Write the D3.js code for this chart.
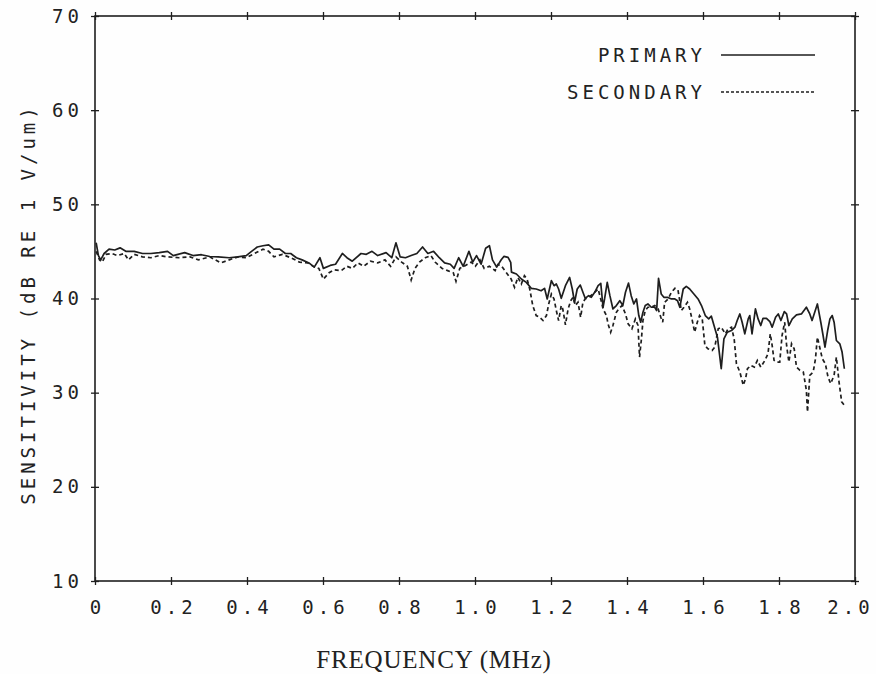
<!DOCTYPE html>
<html>
<head>
<meta charset="utf-8">
<script src="https://cdn.jsdelivr.net/npm/d3@7"></script>
<style>
  html, body { margin: 0; padding: 0; background: #fefefe; }
  svg { display: block; }
  .plotter { font-family: "DejaVu Sans Mono", monospace; font-size: 19px; letter-spacing: 4px; fill: #222; }
  .typed { font-family: "Liberation Serif", serif; font-size: 25px; letter-spacing: 0.8px; fill: #222; }
</style>
</head>
<body>
<svg id="chart" width="876" height="674"></svg>
<script>
// frequency (MHz) / sensitivity (dB re 1 V/um)
const primaryFreq = [
  0.003, 0.009, 0.015, 0.024, 0.037, 0.052, 0.066, 0.081, 0.103, 0.125, 0.147, 0.169, 0.191, 0.206,
  0.236, 0.258, 0.280, 0.302, 0.324, 0.353, 0.376, 0.398, 0.412, 0.427, 0.442, 0.457, 0.471, 0.486,
  0.501, 0.515, 0.530, 0.545, 0.563, 0.577, 0.592, 0.601, 0.619, 0.633, 0.651, 0.663, 0.677, 0.700,
  0.714, 0.729, 0.744, 0.766, 0.781, 0.792, 0.803, 0.817, 0.832, 0.847, 0.862, 0.876, 0.891, 0.906,
  0.920, 0.935, 0.945, 0.957, 0.969, 0.984, 0.994, 1.004, 1.016, 1.028, 1.038, 1.046, 1.057, 1.069,
  1.076, 1.087, 1.094, 1.096, 1.109, 1.122, 1.135, 1.148, 1.161, 1.174, 1.183, 1.190, 1.201, 1.208,
  1.214, 1.220, 1.227, 1.238, 1.249, 1.256, 1.262, 1.269, 1.277, 1.284, 1.290, 1.299, 1.306, 1.315,
  1.324, 1.331, 1.337, 1.341, 1.348, 1.355, 1.363, 1.372, 1.381, 1.389, 1.396, 1.404, 1.411, 1.418,
  1.425, 1.431, 1.436, 1.442, 1.448, 1.455, 1.464, 1.473, 1.478, 1.483, 1.490, 1.497, 1.506, 1.517,
  1.526, 1.533, 1.539, 1.548, 1.556, 1.565, 1.576, 1.587, 1.596, 1.606, 1.615, 1.622, 1.629, 1.638,
  1.648, 1.655, 1.664, 1.675, 1.684, 1.690, 1.697, 1.703, 1.710, 1.719, 1.723, 1.729, 1.738, 1.745,
  1.752, 1.758, 1.767, 1.776, 1.782, 1.791, 1.798, 1.805, 1.814, 1.820, 1.826, 1.835, 1.846, 1.859,
  1.872, 1.881, 1.887, 1.901, 1.910, 1.916, 1.921, 1.928, 1.934, 1.940, 1.945, 1.951, 1.960, 1.966,
  1.972
];
const primaryDb = [
  45.92, 44.56, 44.10, 44.78, 45.24, 45.15, 45.38, 45.01, 45.01, 44.78, 44.78, 44.87, 45.01, 44.56,
  44.87, 44.56, 44.65, 44.46, 44.42, 44.33, 44.42, 44.56, 45.01, 45.47, 45.60, 45.70, 45.24, 45.24,
  44.78, 44.78, 44.33, 44.10, 43.78, 43.33, 44.33, 43.20, 43.51, 43.64, 44.78, 44.33, 43.96, 44.78,
  44.69, 45.01, 44.56, 44.87, 44.33, 45.92, 44.42, 44.33, 44.56, 44.78, 45.47, 44.78, 45.01, 44.33,
  43.78, 43.64, 43.20, 44.33, 43.42, 45.01, 43.87, 44.56, 43.64, 45.33, 45.60, 44.10, 43.33, 44.11,
  44.47, 44.36, 43.83, 42.80, 42.60, 42.07, 41.71, 41.08, 41.01, 40.83, 41.08, 39.95, 41.89, 41.36,
  41.54, 41.01, 40.02, 41.36, 42.24, 41.01, 39.60, 41.01, 41.43, 40.66, 40.02, 40.30, 40.13, 40.66,
  41.36, 41.61, 39.07, 39.95, 41.71, 40.30, 38.89, 39.25, 39.77, 39.25, 40.66, 41.64, 40.30, 39.42,
  39.95, 38.19, 37.48, 38.54, 39.25, 39.42, 39.07, 39.07, 38.72, 42.14, 40.48, 40.13, 40.13, 39.95,
  39.95, 39.77, 39.07, 41.01, 41.29, 41.01, 40.48, 39.95, 39.25, 38.19, 37.83, 38.12, 37.13, 35.89,
  32.54, 35.72, 36.42, 36.60, 36.95, 37.66, 38.36, 37.48, 36.25, 37.83, 38.19, 36.25, 38.89, 37.83,
  37.13, 37.90, 37.90, 37.55, 36.95, 38.01, 38.36, 37.66, 38.61, 38.36, 37.13, 37.83, 38.26, 38.36,
  39.07, 38.36, 37.66, 39.42, 37.48, 36.07, 34.84, 36.60, 37.83, 38.19, 37.48, 35.54, 35.19, 34.31,
  32.54
];

const secondaryFreq = [
  0.003, 0.012, 0.019, 0.029, 0.044, 0.059, 0.077, 0.088, 0.103, 0.125, 0.147, 0.169, 0.191, 0.221,
  0.250, 0.272, 0.302, 0.331, 0.353, 0.376, 0.398, 0.420, 0.442, 0.457, 0.471, 0.493, 0.515, 0.538,
  0.560, 0.574, 0.589, 0.601, 0.616, 0.630, 0.648, 0.663, 0.677, 0.692, 0.707, 0.725, 0.744, 0.763,
  0.778, 0.792, 0.807, 0.822, 0.832, 0.842, 0.854, 0.869, 0.884, 0.895, 0.913, 0.928, 0.943, 0.950,
  0.960, 0.975, 0.990, 1.001, 1.013, 1.024, 1.038, 1.053, 1.060, 1.069, 1.082, 1.095, 1.104, 1.113,
  1.122, 1.130, 1.137, 1.144, 1.152, 1.161, 1.170, 1.179, 1.188, 1.194, 1.201, 1.208, 1.214, 1.220,
  1.227, 1.231, 1.238, 1.245, 1.252, 1.258, 1.264, 1.271, 1.278, 1.284, 1.290, 1.299, 1.310, 1.324,
  1.332, 1.337, 1.346, 1.350, 1.357, 1.363, 1.372, 1.378, 1.387, 1.396, 1.403, 1.413, 1.422, 1.429,
  1.433, 1.438, 1.442, 1.448, 1.455, 1.464, 1.473, 1.482, 1.489, 1.494, 1.499, 1.508, 1.517, 1.526,
  1.534, 1.543, 1.550, 1.559, 1.565, 1.571, 1.578, 1.585, 1.591, 1.598, 1.605, 1.613, 1.624, 1.631,
  1.640, 1.648, 1.659, 1.666, 1.675, 1.682, 1.688, 1.697, 1.706, 1.712, 1.717, 1.726, 1.735, 1.743,
  1.752, 1.763, 1.771, 1.777, 1.782, 1.787, 1.793, 1.802, 1.808, 1.815, 1.820, 1.826, 1.833, 1.840,
  1.846, 1.855, 1.864, 1.872, 1.875, 1.881, 1.890, 1.896, 1.901, 1.908, 1.914, 1.922, 1.929, 1.936,
  1.945, 1.951, 1.958, 1.965, 1.972
];
const secondaryDb = [
  45.01, 44.10, 43.87, 44.69, 44.78, 44.56, 44.78, 44.10, 44.69, 44.42, 44.33, 44.56, 44.42, 44.33,
  44.42, 44.10, 44.42, 43.78, 44.10, 44.42, 44.33, 44.78, 45.24, 45.01, 44.42, 44.69, 44.33, 43.87,
  43.78, 43.42, 43.20, 42.05, 42.73, 43.05, 42.96, 43.42, 43.20, 43.78, 43.42, 43.96, 43.78, 44.10,
  43.42, 44.42, 43.87, 43.42, 41.96, 43.20, 43.87, 44.33, 44.56, 43.87, 43.20, 42.96, 42.73, 41.82,
  43.20, 43.51, 43.87, 43.42, 44.10, 43.20, 43.42, 42.96, 43.60, 43.48, 42.77, 42.07, 41.19, 42.24,
  41.54, 42.42, 42.07, 41.01, 39.25, 38.19, 38.01, 37.66, 38.19, 39.42, 40.48, 39.95, 38.72, 37.66,
  39.25, 38.89, 37.20, 38.89, 39.77, 40.13, 39.25, 39.60, 38.01, 39.60, 39.95, 40.13, 40.48, 41.01,
  39.77, 38.89, 38.19, 37.31, 36.42, 37.13, 38.54, 38.89, 39.25, 38.36, 37.31, 36.78, 37.83, 37.13,
  33.78, 35.72, 37.66, 38.72, 39.07, 39.07, 39.25, 38.89, 38.01, 37.48, 39.60, 39.95, 40.66, 41.08,
  40.94, 38.72, 39.07, 39.60, 38.89, 37.83, 36.42, 37.48, 38.19, 37.83, 35.01, 34.66, 34.48, 34.84,
  36.78, 36.95, 36.25, 36.78, 36.95, 35.72, 33.07, 32.19, 30.78, 31.49, 32.54, 32.90, 32.72, 33.43,
  32.72, 33.43, 34.13, 36.25, 35.01, 33.43, 33.25, 33.25, 36.07, 37.48, 35.01, 33.25, 35.19, 34.66,
  32.72, 32.37, 32.19, 30.25, 27.96, 31.84, 32.19, 33.60, 35.89, 34.66, 33.60, 33.07, 31.66, 30.96,
  31.84, 33.78, 31.13, 29.02, 28.66
];

const xTicks = [0, 0.2, 0.4, 0.6, 0.8, 1.0, 1.2, 1.4, 1.6, 1.8, 2.0];
const yTicks = [10, 20, 30, 40, 50, 60, 70];
const legendLabels = ["PRIMARY", "SECONDARY"];

const svg = d3.select("#chart");
const plotLeft = 95, plotRight = 855, plotTop = 16, plotBottom = 581;
const ink = "#1e1e1e";

const x = d3.scaleLinear().domain([0, 2]).range([plotLeft, plotRight]);
const y = d3.scaleLinear().domain([10, 70]).range([plotBottom, plotTop]);

// tick marks cross the frame, so draw outward and inward halves
function tickAxis(axisFn, scale, ticks, size, transform, fmt) {
  const a = axisFn(scale).tickValues(ticks).tickSize(size).tickSizeOuter(0);
  a.tickFormat(fmt || (() => ""));
  const g = svg.append("g").attr("transform", transform).call(a);
  g.select(".domain").remove();
  g.selectAll(".tick line").attr("stroke", ink).attr("stroke-width", 1.3);
  g.attr("font-family", null).attr("font-size", null);
  return g;
}

const xFmt = d => d === 0 ? "0" : d3.format(".1f")(d);
const gx = tickAxis(d3.axisBottom, x, xTicks, 4, `translate(0,${plotBottom})`, xFmt);
tickAxis(d3.axisBottom, x, xTicks, -4, `translate(0,${plotBottom})`);
tickAxis(d3.axisTop, x, xTicks, 4, `translate(0,${plotTop})`);
tickAxis(d3.axisTop, x, xTicks, -4, `translate(0,${plotTop})`);
const gy = tickAxis(d3.axisLeft, y, yTicks, 4, `translate(${plotLeft},0)`, d3.format("d"));
tickAxis(d3.axisLeft, y, yTicks, -4, `translate(${plotLeft},0)`);
tickAxis(d3.axisRight, y, yTicks, 4, `translate(${plotRight},0)`);
tickAxis(d3.axisRight, y, yTicks, -4, `translate(${plotRight},0)`);

gx.selectAll(".tick text")
  .attr("class", "plotter")
  .attr("fill", null)
  .attr("y", 20)
  .attr("dx", d => d === 2 ? -5 : 2);
gy.selectAll(".tick text")
  .attr("class", "plotter")
  .attr("fill", null)
  .attr("x", -12);

// frame
svg.append("rect")
  .attr("x", plotLeft).attr("y", plotTop)
  .attr("width", plotRight - plotLeft).attr("height", plotBottom - plotTop)
  .attr("fill", "none").attr("stroke", ink).attr("stroke-width", 1.6);

// series
const primary = primaryFreq.map((f, i) => ({ f, v: primaryDb[i] }));
const secondary = secondaryFreq.map((f, i) => ({ f, v: secondaryDb[i] }));
const line = d3.line().x(d => x(d.f)).y(d => y(d.v));

svg.append("path")
  .datum(secondary)
  .attr("fill", "none")
  .attr("stroke", ink)
  .attr("stroke-width", 1.7)
  .attr("stroke-dasharray", "4,3")
  .attr("d", line);

svg.append("path")
  .datum(primary)
  .attr("fill", "none")
  .attr("stroke", ink)
  .attr("stroke-width", 1.7)
  .attr("stroke-linejoin", "round")
  .attr("d", line);

// legend
const legendY = [55, 92];
legendLabels.forEach((lab, i) => {
  svg.append("text")
    .attr("class", "plotter")
    .attr("x", 706)
    .attr("y", legendY[i])
    .attr("dy", "0.36em")
    .attr("text-anchor", "end")
    .text(lab);
  svg.append("line")
    .attr("x1", 721).attr("x2", 815)
    .attr("y1", legendY[i]).attr("y2", legendY[i])
    .attr("stroke", ink)
    .attr("stroke-width", 1.5)
    .attr("stroke-dasharray", i === 0 ? null : "3,2");
});

// axis titles
svg.append("text")
  .attr("class", "typed")
  .attr("x", 434)
  .attr("y", 659)
  .attr("dy", "0.35em")
  .attr("text-anchor", "middle")
  .text("FREQUENCY (MHz)");

svg.append("text")
  .attr("class", "plotter")
  .attr("transform", "translate(28,304) rotate(-90)")
  .attr("dy", "0.36em")
  .attr("text-anchor", "middle")
  .text("SENSITIVITY (dB RE 1 V/um)");
</script>
</body>
</html>
